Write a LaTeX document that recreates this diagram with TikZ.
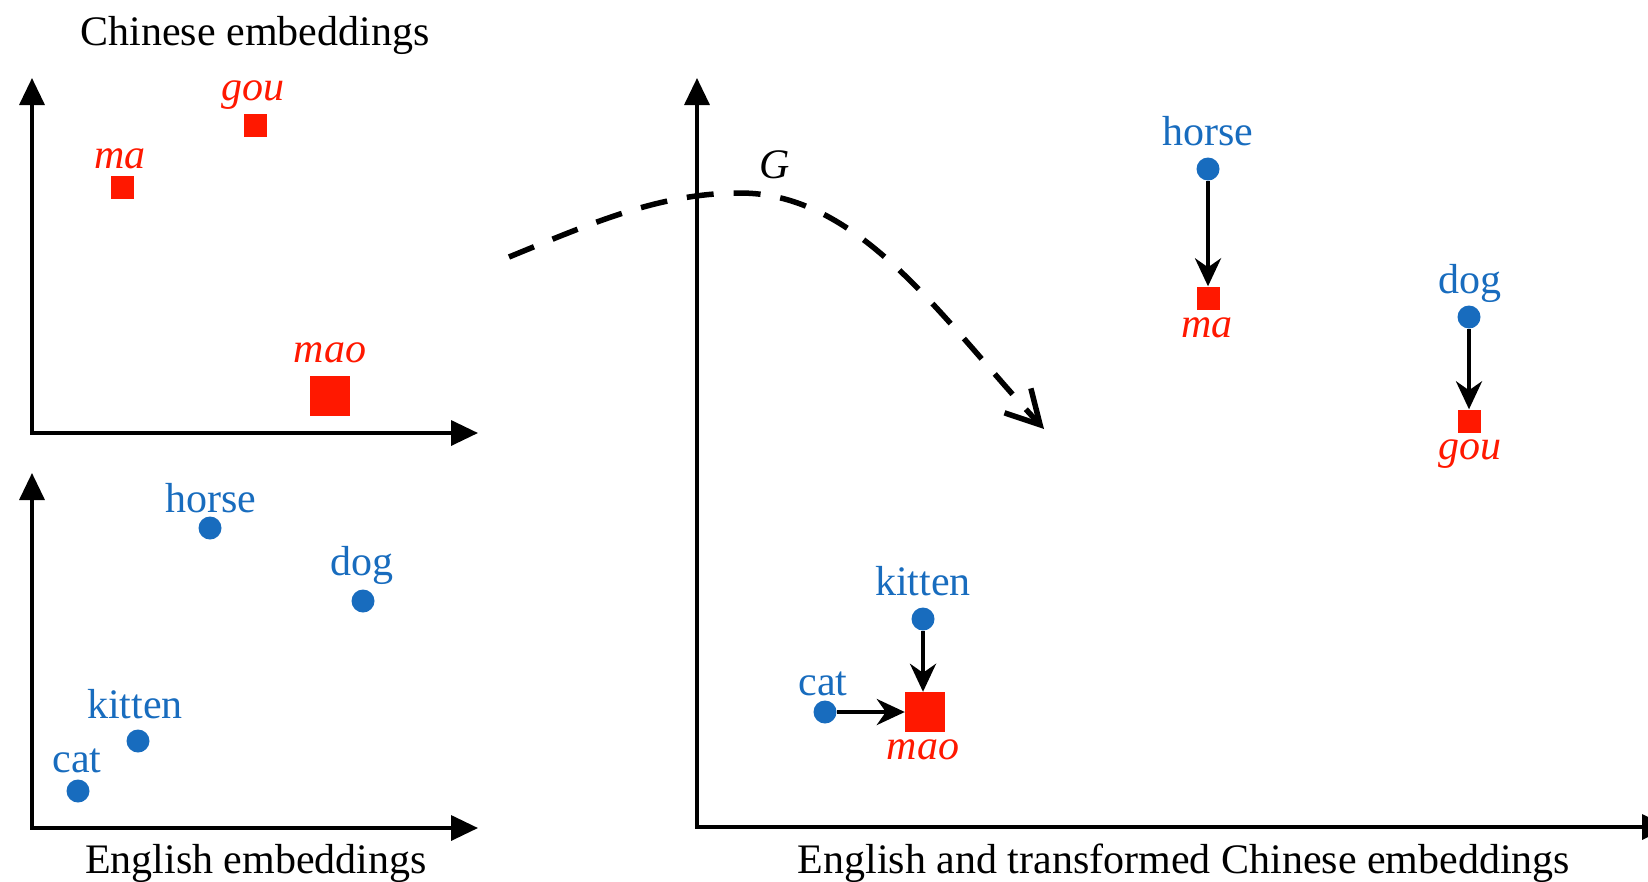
\documentclass[tikz,border=0pt]{standalone}
\usepackage{fontspec}
\setmainfont{Liberation Serif}
\usetikzlibrary{arrows.meta}
\definecolor{engblue}{RGB}{24,108,190}
\definecolor{chnred}{RGB}{255,24,0}
\begin{document}
\begin{tikzpicture}[x=1pt,y=-1pt,
  axes/.style={line width=3.5pt,
    {Triangle[length=27pt,width=25pt]}-{Triangle[length=27pt,width=25pt]}},
  word/.style={font=\fontsize{42}{48}\selectfont, text=engblue, inner sep=0pt, anchor=base},
  pinyin/.style={font=\fontsize{42}{48}\selectfont\itshape, text=chnred, inner sep=0pt, anchor=base},
  caption/.style={font=\fontsize{42}{48}\selectfont, inner sep=0pt, anchor=base},
  dot/.style={circle, fill=engblue, minimum size=23pt, inner sep=0pt},
  sq/.style={rectangle, fill=chnred, minimum size=23pt, inner sep=0pt},
  bigsq/.style={sq, minimum size=40pt},
  move/.style={line width=4pt, -{Stealth[length=28pt,width=26pt,inset=9pt]}},
  mapping/.style={line width=5.5pt, dash pattern=on 27pt off 20pt,
    -{Straight Barb[length=33pt,width=36pt]}},
]
\useasboundingbox (0,0) rectangle (1648,881);

% ---------- Chinese embedding space ----------
\coordinate (cy) at (32,78);
\coordinate (co) at (32,433);
\coordinate (cx) at (478,433);
\draw[axes] (cy) -- (co) -- (cx);
\node[caption] (ctitle) at (255,45) {Chinese embeddings};

\node[sq] (ma1) at (122,187) {};
\node[sq] (gou1) at (255,125) {};
\node[bigsq] (mao1) at (330,396) {};
\node[pinyin] (ma1l) at (120,168) {ma};
\node[pinyin] (gou1l) at (253,100) {gou};
\node[pinyin] (mao1l) at (330,362) {mao};

% ---------- English embedding space ----------
\coordinate (ey) at (32,473);
\coordinate (eo) at (32,828);
\coordinate (ex) at (478,828);
\draw[axes] (ey) -- (eo) -- (ex);
\node[caption] (etitle) at (256,873) {English embeddings};

\node[dot] (horse1) at (210,528) {};
\node[dot] (dog1) at (363,601) {};
\node[dot] (kitten1) at (138,741) {};
\node[dot] (cat1) at (78,791) {};
\node[word] (horse1l) at (211,512) {horse};
\node[word] (dog1l) at (362,575) {dog};
\node[word] (kitten1l) at (135,718) {kitten};
\node[word] (cat1l) at (77,772) {cat};

% ---------- shared space after the mapping ----------
\coordinate (sy) at (697,78);
\coordinate (so) at (697,827);
\coordinate (sx) at (1669,827);
\draw[axes] (sy) -- (so) -- (sx);
\node[caption] (stitle) at (1184,873) {English and transformed Chinese embeddings};

\node[dot] (horse2) at (1208,169) {};
\node[dot] (dog2) at (1469,317) {};
\node[dot] (kitten2) at (923,619) {};
\node[dot] (cat2) at (825,712) {};
\node[sq] (ma2) at (1208,298) {};
\node[sq] (gou2) at (1469,421) {};
\node[bigsq] (mao2) at (925,712) {};

\node[word] (horse2l) at (1208,145) {horse};
\node[word] (dog2l) at (1470,293) {dog};
\node[word] (kitten2l) at (923,595) {kitten};
\node[word] (cat2l) at (823,695) {cat};
\node[pinyin] (ma2l) at (1207,337) {ma};
\node[pinyin] (gou2l) at (1470,459) {gou};
\node[pinyin] (mao2l) at (923,759) {mao};

\draw[move] (horse2) -- (ma2);
\draw[move] (dog2) -- (gou2);
\draw[move] (kitten2) -- (kitten2 |- mao2.north);
\draw[move] (cat2) -- (mao2);

% ---------- the mapping G ----------
\coordinate (gs) at (509,257);
\coordinate (gp) at (740,193);
\coordinate (ge) at (1044,429);
\draw[mapping] (gs) .. controls (592,223) and (660,193) .. (gp)
  .. controls (860,193) and (942,319) .. (ge);
\node[caption, font=\fontsize{42}{48}\selectfont\itshape] (G) at (775,178) {G};
\end{tikzpicture}
\end{document}
